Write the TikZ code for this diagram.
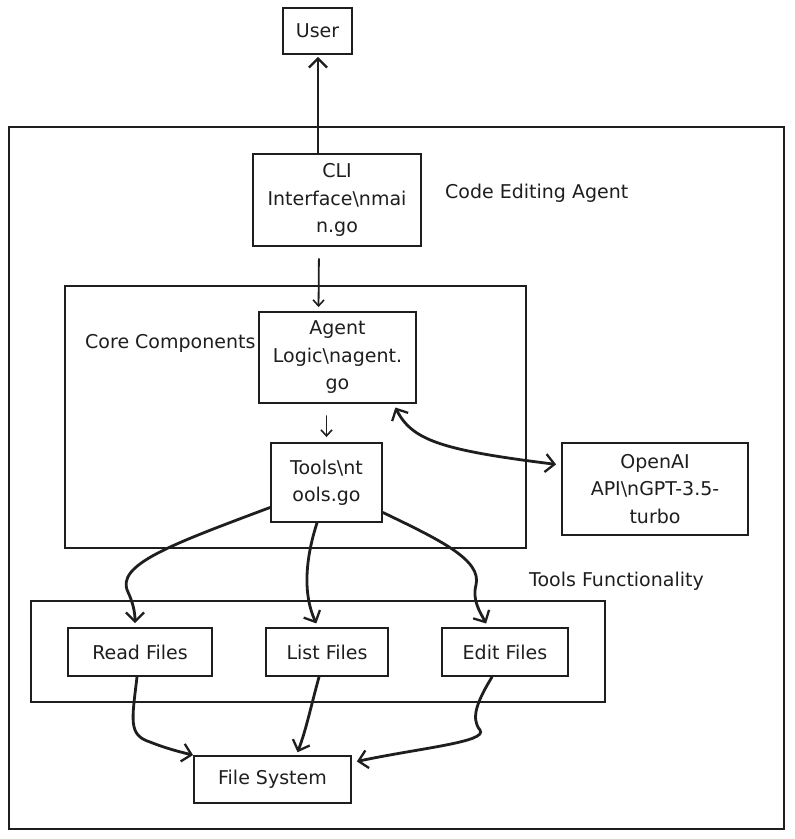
\documentclass[tikz,border=0pt]{standalone}
\usepackage{fontspec}
\setmainfont{DejaVu Sans}
\usetikzlibrary{arrows.meta}
\definecolor{ink}{HTML}{1E1E1E}
\begin{document}
\begin{tikzpicture}[x=1pt,y=-1pt,
  box/.style={draw=ink, line width=1.9pt, rectangle, inner sep=0pt, align=center, text=ink, font=\fontsize{19}{27.5}\selectfont},
  lbl/.style={text=ink, anchor=west, inner sep=0pt, font=\fontsize{19}{27.5}\selectfont},
  frame/.style={draw=ink, line width=1.9pt, rectangle, inner sep=0pt},
  heavy/.style={draw=ink, line width=2.8pt, line cap=round, -{Straight Barb[length=9pt,width=18pt,line width=2.3pt]}},
  heavyboth/.style={draw=ink, line width=2.8pt, line cap=round, {Straight Barb[length=9pt,width=18pt,line width=2.3pt]}-{Straight Barb[length=9pt,width=18pt,line width=2.3pt]}},
  light/.style={draw=ink, line width=1.8pt, line cap=round, -{Straight Barb[length=6pt,width=11pt,line width=1.6pt]}},
]
\useasboundingbox (0,0) rectangle (795,839);
\fill[white] (0,0) rectangle (795,839);

% frames
\node[frame, minimum width=775pt, minimum height=702pt] (outer) at (396.5,478) {};
\node[frame, minimum width=461pt, minimum height=262pt] (core) at (295.5,417) {};
\node[frame, minimum width=574pt, minimum height=101pt] (toolsf) at (318,651.5) {};

% frame labels
\node[lbl] (lagent) at (445,193) {Code Editing Agent};
\node[lbl] (lcore) at (85,343) {Core Components};
\node[lbl] (ltools) at (529,581) {Tools Functionality};

% boxes
\node[box, minimum width=69pt, minimum height=46pt] (user) at (317.5,31) {User};
\node[box, minimum width=168pt, minimum height=92pt] (cli) at (337,200) {CLI\\Interface\textbackslash nmai\\n.go};
\node[box, minimum width=157pt, minimum height=91pt] (agent) at (337.5,357.5) {Agent\\Logic\textbackslash nagent.\\go};
\node[box, minimum width=111pt, minimum height=79pt] (tools) at (326.5,482.5) {Tools\textbackslash nt\\ools.go};
\node[box, minimum width=186pt, minimum height=92pt] (openai) at (655,489) {OpenAI\\API\textbackslash nGPT-3.5-\\turbo};
\node[box, minimum width=144pt, minimum height=48pt] (read) at (140,652) {Read Files};
\node[box, minimum width=122pt, minimum height=48pt] (list) at (327,652) {List Files};
\node[box, minimum width=126pt, minimum height=48pt] (edit) at (505,652) {Edit Files};
\node[box, minimum width=157pt, minimum height=47pt] (fs) at (272.5,779.5) {File System};

% connectors
\draw[heavy, shorten >=2pt] ([xshift=-19pt]cli.north) -- ([xshift=0.5pt]user.south);
\draw[light, shorten <=12pt, shorten >=4pt] ([xshift=-18pt]cli.south) -- ([xshift=-19pt]agent.north);
\draw[light, shorten <=12pt, shorten >=5pt] ([xshift=-11pt]agent.south) -- (tools.north);
\draw[heavyboth, shorten <=4pt, shorten >=5pt] ([xshift=56pt]agent.south) .. controls (412,440) and (440,450) .. ([yshift=24pt]openai.west);

\draw[heavy, shorten >=4pt] ([yshift=-25pt]tools.west) .. controls (170,545) and (115,565) .. (128,592) .. controls (133,603) and (135,612) .. ([xshift=-5pt]read.north);
\draw[heavy, shorten >=4pt] ([xshift=-9.5pt]tools.south) .. controls (305,560) and (303,595) .. ([xshift=-9pt]list.north);
\draw[heavy, shorten >=4pt] ([yshift=-30pt]tools.east) .. controls (440,540) and (482,560) .. (476,585) .. controls (472,600) and (480,612) .. ([xshift=-17pt]edit.north);

\draw[heavy] ([xshift=-3pt]read.south) .. controls (132,720) and (128,735) .. (150,742) .. controls (165,748) and (180,752) .. (fs.north west);
\draw[heavy, shorten >=3pt] ([xshift=-8pt]list.south) .. controls (310,710) and (306,730) .. ([xshift=24pt]fs.north);
\draw[heavy, shorten >=5pt] ([xshift=-13pt]edit.south) .. controls (478,700) and (470,718) .. (480,730) .. controls (488,742) and (420,748) .. ([yshift=17pt]fs.east);
\end{tikzpicture}
\end{document}
